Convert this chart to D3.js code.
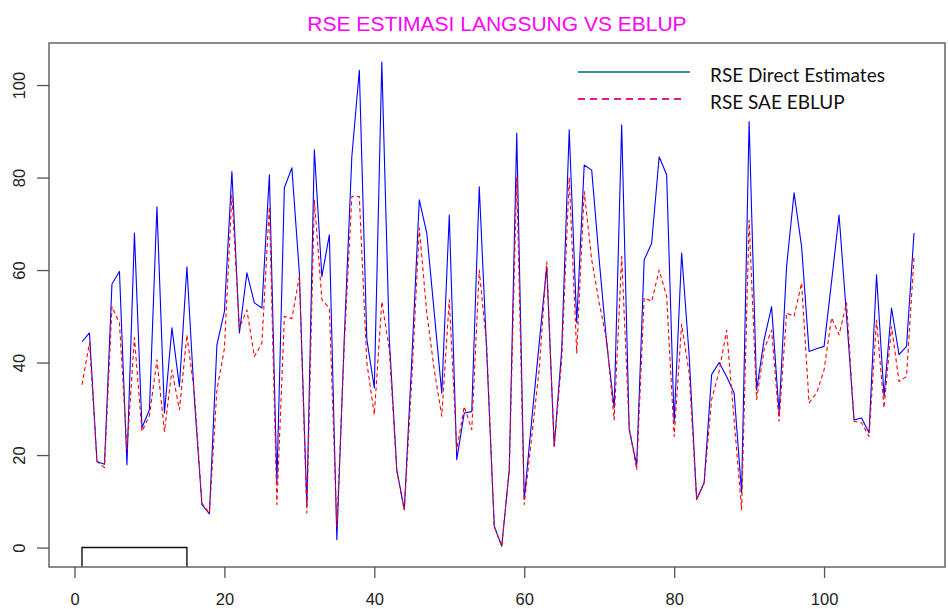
<!DOCTYPE html>
<html>
<head>
<meta charset="utf-8">
<script src="https://cdn.jsdelivr.net/npm/d3@7/dist/d3.min.js"></script>
<style>
  html, body { margin: 0; padding: 0; background: #fff; }
  svg { display: block; }
</style>
</head>
<body>
<svg id="chart" width="948" height="609"></svg>
<script>
// ---- Data ----
const chartTitle = "RSE ESTIMASI LANGSUNG VS EBLUP";
const seriesNames = ["RSE Direct Estimates", "RSE SAE EBLUP"];

const rseDirect = [
  44.5, 46.4, 18.6, 18.0, 57.0, 59.7, 17.9, 68.0, 25.9, 29.8,
  73.7, 29.1, 47.5, 34.8, 60.7, 32.0, 9.3, 7.3, 43.8, 51.0,
  81.3, 46.4, 59.4, 52.9, 51.8, 80.6, 14.0, 77.8, 82.1, 59.4,
  9.0, 86.0, 58.6, 67.6, 1.7, 45.6, 84.5, 103.2, 45.0, 34.5,
  105.0, 45.0, 16.8, 8.2, 40.6, 75.2, 68.0, 50.7, 33.4, 71.9,
  19.0, 29.1, 29.4, 78.0, 42.1, 4.6, 0.3, 16.8, 89.6, 10.4,
  27.6, 44.2, 60.8, 21.9, 42.8, 90.3, 48.6, 82.7, 81.6, 62.2,
  44.2, 30.2, 91.4, 25.5, 17.9, 62.2, 65.8, 84.5, 80.6, 27.0,
  63.7, 41.5, 10.4, 14.0, 37.4, 40.0, 37.0, 33.4, 11.9, 92.1,
  34.1, 44.9, 52.1, 29.1, 60.8, 76.7, 65.1, 42.4, 43.0, 43.5,
  57.5, 71.9, 50.0, 27.6, 28.0, 24.8, 59.0, 32.7, 51.8, 41.7,
  43.5, 68.0
];

const rseEblup = [
  35.2, 44.3, 18.6, 17.3, 52.1, 48.5, 21.2, 45.4, 25.1, 28.5,
  40.6, 25.1, 38.4, 29.8, 46.0, 33.4, 9.6, 7.4, 34.1, 43.0,
  76.2, 47.5, 51.4, 41.3, 44.2, 73.7, 9.3, 50.0, 49.5, 58.6,
  7.5, 75.2, 53.6, 51.8, 4.6, 44.0, 75.9, 75.9, 40.0, 28.7,
  53.2, 42.8, 16.5, 8.0, 36.3, 69.1, 50.7, 38.4, 28.4, 53.6,
  21.2, 30.5, 25.5, 60.0, 43.5, 4.6, 0.3, 16.8, 80.0, 9.3,
  24.0, 38.5, 61.8, 21.9, 40.6, 80.0, 42.1, 77.0, 62.2, 52.9,
  44.9, 27.6, 62.9, 26.0, 16.8, 54.0, 53.2, 60.0, 54.3, 24.0,
  48.3, 37.7, 10.4, 14.0, 32.0, 38.1, 47.0, 27.6, 8.2, 70.8,
  32.0, 42.8, 47.0, 27.3, 50.7, 50.0, 57.2, 31.3, 33.4, 38.4,
  49.7, 46.0, 52.9, 27.3, 27.0, 24.0, 49.2, 30.2, 47.8, 35.9,
  37.0, 62.9
];

// black baseline segment (value 0 over indices 1..15)
const baselineIdx = [1, 15];
const baselineValue = 0;

const xTicks = [0, 20, 40, 60, 80, 100];
const yTicks = [0, 20, 40, 60, 80, 100];

// ---- Layout ----
const svg = d3.select("#chart");
const n = rseDirect.length;
const xPad = (n - 1) * 0.04;
const yMax = d3.max([d3.max(rseDirect), d3.max(rseEblup)]);
const yMin = 0;
const yPad = (yMax - yMin) * 0.04;

const x = d3.scaleLinear().domain([1 - xPad, n + xPad]).range([48.7, 947.3]);
const y = d3.scaleLinear().domain([yMin - yPad, yMax + yPad]).range([567, 42.5]);

const frame = { left: 49, right: 945, top: 43, bottom: 567 };

svg.append("defs").append("clipPath").attr("id", "plotclip")
  .append("rect")
  .attr("x", frame.left).attr("y", frame.top)
  .attr("width", frame.right - frame.left).attr("height", frame.bottom - frame.top);

const plot = svg.append("g").attr("clip-path", "url(#plotclip)");

const line = d3.line().x((d, i) => x(i + 1)).y(d => y(d));

// black step segment
plot.append("path")
  .attr("d", d3.line().x(d => x(d[0])).y(d => y(d[1]))([
    [baselineIdx[0], y.domain()[0]],
    [baselineIdx[0], baselineValue],
    [baselineIdx[1], baselineValue],
    [baselineIdx[1], y.domain()[0]]
  ]))
  .attr("fill", "none").attr("stroke", "#111").attr("stroke-width", 1.4);

plot.append("path")
  .datum(rseDirect)
  .attr("d", line)
  .attr("fill", "none")
  .attr("stroke", "#0000ff")
  .attr("stroke-width", 1.1)
  .attr("stroke-linejoin", "round");

plot.append("path")
  .datum(rseEblup)
  .attr("d", line)
  .attr("fill", "none")
  .attr("stroke", "#ff0000")
  .attr("stroke-width", 1.1)
  .attr("stroke-dasharray", "4,3")
  .attr("stroke-linejoin", "round");

// frame
svg.append("rect")
  .attr("x", frame.left).attr("y", frame.top)
  .attr("width", frame.right - frame.left).attr("height", frame.bottom - frame.top)
  .attr("fill", "none").attr("stroke", "#666").attr("stroke-width", 1.5);

// axes
const xAxis = svg.append("g")
  .attr("transform", `translate(0,${frame.bottom})`)
  .call(d3.axisBottom(x).tickValues(xTicks).tickSize(11).tickPadding(15).tickFormat(d3.format("d")));
xAxis.select(".domain").remove();
xAxis.selectAll("line").attr("stroke", "#555").attr("stroke-width", 1.3);
xAxis.selectAll("text")
  .attr("fill", "#222")
  .style("font-family", "'Liberation Sans', Arial, sans-serif")
  .style("font-size", "16.5px");

const yAxis = svg.append("g")
  .attr("transform", `translate(${frame.left},0)`)
  .call(d3.axisLeft(y).tickValues(yTicks).tickSize(12).tickFormat(d3.format("d")));
yAxis.select(".domain").remove();
yAxis.selectAll("line").attr("stroke", "#555").attr("stroke-width", 1.3);
yAxis.selectAll("text")
  .attr("x", null).attr("dy", null)
  .attr("transform", "translate(-24,0) rotate(-90)")
  .attr("text-anchor", "middle")
  .attr("fill", "#222")
  .style("font-family", "'Liberation Sans', Arial, sans-serif")
  .style("font-size", "16.5px");

// title
svg.append("text")
  .attr("x", (frame.left + frame.right) / 2)
  .attr("y", 31)
  .attr("text-anchor", "middle")
  .attr("fill", "#ff00ff")
  .style("font-family", "'Liberation Sans', Arial, sans-serif")
  .style("font-size", "21px")
  .text(chartTitle);

// legend
const legend = svg.append("g");
const legendItems = [
  { name: seriesNames[0], color: "#3a8fa3", dash: null, y: 72, x2: 690 },
  { name: seriesNames[1], color: "#e01ca6", dash: "7,5", y: 99, x2: 686 }
];
legendItems.forEach(it => {
  legend.append("line")
    .attr("x1", 578).attr("x2", it.x2)
    .attr("y1", it.y).attr("y2", it.y)
    .attr("stroke", it.color).attr("stroke-width", 2)
    .attr("stroke-dasharray", it.dash);
  legend.append("text")
    .attr("x", 710).attr("y", it.y + 9.5)
    .attr("fill", "#111")
    .style("font-family", "Lato, 'Open Sans', sans-serif")
    .style("font-size", "19px")
    .text(it.name);
});
</script>
</body>
</html>
